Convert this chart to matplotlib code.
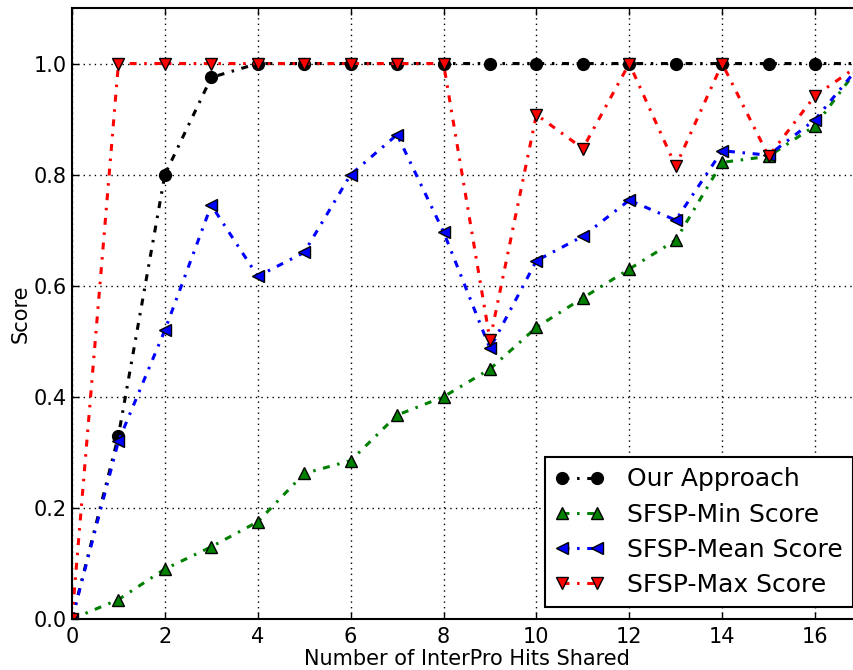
import matplotlib
matplotlib.use("Agg")
import matplotlib.pyplot as plt

x = list(range(0, 18))
our_approach = [0.0, 0.33, 0.80, 0.975, 1.0, 1.0, 1.0, 1.0, 1.0, 1.0, 1.0, 1.0, 1.0, 1.0, 1.0, 1.0, 1.0, 1.0]
sfsp_min = [0.0, 0.035, 0.09, 0.13, 0.175, 0.262, 0.285, 0.367, 0.40, 0.45, 0.525, 0.578, 0.630, 0.682, 0.822, 0.833, 0.888, 1.0]
sfsp_mean = [0.0, 0.32, 0.52, 0.745, 0.617, 0.66, 0.80, 0.872, 0.697, 0.487, 0.645, 0.689, 0.754, 0.718, 0.843, 0.835, 0.899, 1.0]
sfsp_max = [0.0, 1.0, 1.0, 1.0, 1.0, 1.0, 1.0, 1.0, 1.0, 0.502, 0.908, 0.847, 1.0, 0.815, 1.0, 0.833, 0.942, 1.0]
labels = ["Our Approach", "SFSP-Min Score", "SFSP-Mean Score", "SFSP-Max Score"]

plt.rcParams['lines.scale_dashes'] = False
plt.rcParams['font.family'] = ['DejaVu Sans']

fig = plt.figure(figsize=(8.54, 6.7), dpi=100)
ax = fig.add_axes([72/854, 51/670, 17*46.44/854, 611/670])

dash = (0, (5, 5.5, 1.8, 5.5))
series = [
    (our_approach, 'k', 'o'),
    (sfsp_min, (0, 0.5, 0), '^'),
    (sfsp_mean, 'b', '<'),
    (sfsp_max, 'r', 'v'),
]
for (vals, col, mk), lab in zip(series, labels):
    ax.plot(x, vals, linestyle=dash, color=col, lw=2.2, marker=mk, markersize=8.5,
            markerfacecolor=col, markeredgecolor='k', markeredgewidth=1, label=lab)

ax.set_xlim(0, 17)
ax.set_ylim(0, 1.1)
ax.set_xticks(range(0, 18, 2))
ax.set_yticks([0.0, 0.2, 0.4, 0.6, 0.8, 1.0])
ax.set_yticklabels(["0.0", "0.2", "0.4", "0.6", "0.8", "1.0"])
ax.tick_params(direction='in', length=5, width=1, labelsize=15, pad=4, top=True, right=True)
ax.tick_params(axis='x', pad=6)
ax.grid(True, linestyle=(0, (1, 3)), color='k', linewidth=1)
for s in ax.spines.values():
    s.set_linewidth(1.5)
ax.set_xlabel("Number of InterPro Hits Shared", fontsize=15, labelpad=1)
ax.set_ylabel("Score", fontsize=15, labelpad=2)

leg = ax.legend(loc='lower right', bbox_to_anchor=(853/854, 63/670), bbox_transform=fig.transFigure,
                borderaxespad=0, fontsize=18, numpoints=2, fancybox=False, framealpha=1, edgecolor='k',
                handlelength=2.0, borderpad=0.4, labelspacing=0.45, handletextpad=0.9)
leg.get_frame().set_linewidth(1.5)

fig.savefig("out.png", dpi=100)
